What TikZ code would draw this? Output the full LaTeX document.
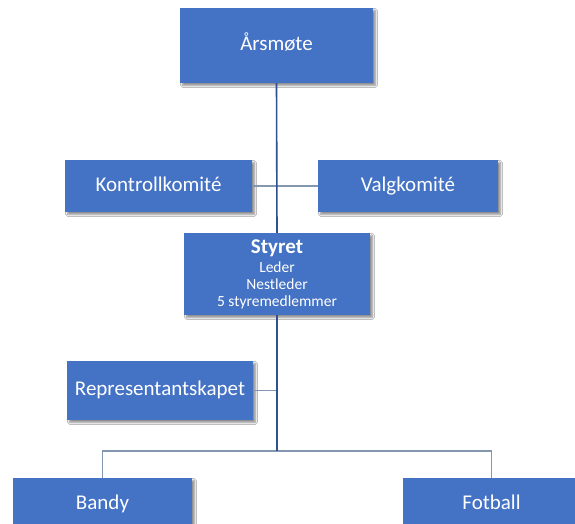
\documentclass[tikz,border=0pt]{standalone}
\usepackage{fontspec}
\setmainfont{Carlito}
\usetikzlibrary{shadows.blur}
\definecolor{boxblue}{HTML}{4472C4}
\definecolor{mainline}{HTML}{2F4F8F}
\definecolor{subline}{HTML}{8497B0}
\tikzset{
  orgbox/.style={fill=boxblue, draw=none, text=white, inner sep=0pt,
    font=\fontsize{21}{25}\selectfont, text height=14pt, text depth=4pt,
    blur shadow={shadow xshift=2.5pt, shadow yshift=-2.5pt, shadow blur steps=6, shadow opacity=45}},
  mainconn/.style={draw=mainline, line width=1.6pt},
  subconn/.style={draw=subline, line width=1.2pt}
}
\begin{document}
\begin{tikzpicture}[x=1pt,y=-1pt]
\useasboundingbox (0,0) rectangle (575,524);
\clip (0,0) rectangle (575,524);
\fill[white] (0,0) rectangle (575,524);
\node[orgbox, minimum width=193pt, minimum height=75pt] (aars) at (276.5,45.5) {Årsmøte};
\node[orgbox, minimum width=187pt, minimum height=52pt] (kontroll) at (158.5,186) {Kontrollkomité};
\node[orgbox, minimum width=180pt, minimum height=52pt] (valg) at (408,186) {Valgkomité};
\node[orgbox, minimum width=186pt, minimum height=82pt, align=center, text height=, text depth=, font=\fontsize{15.5}{17}\selectfont] (styret) at (277,274)
  {{\fontsize{21}{20}\selectfont\bfseries Styret}\\[2pt] Leder\\ Nestleder\\ 5 styremedlemmer};
\node[orgbox, minimum width=186pt, minimum height=59pt] (repr) at (160,390.5) {Representantskapet};
\node[orgbox, minimum width=179pt, minimum height=52pt] (bandy) at (102.5,504) {Bandy};
\node[orgbox, minimum width=177pt, minimum height=52pt] (fotball) at (491.5,504) {Fotball};
\coordinate (junction) at (277,451);
\draw[subconn] (kontroll.east) -- (valg.west);
\draw[subconn] (repr.east) -- (repr.east -| aars.south);
\draw[subconn] (bandy.north) |- (junction) -| (fotball.north);
\draw[mainconn] (aars.south) -- (styret.north);
\draw[mainconn] (styret.south) -- (junction);
\end{tikzpicture}
\end{document}
